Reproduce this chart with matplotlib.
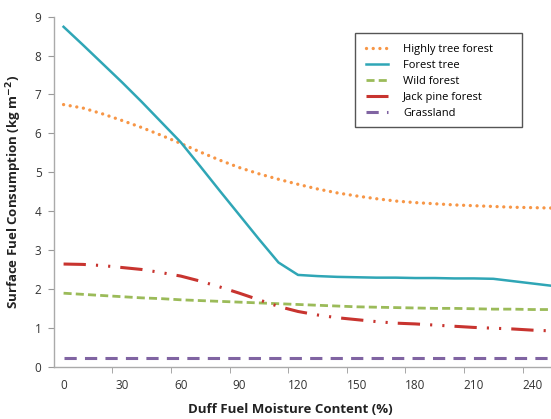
import matplotlib
matplotlib.use("Agg")
import matplotlib.pyplot as plt
from matplotlib.patches import Rectangle
import numpy as np

plt.rcParams['font.family'] = ['Open Sans', 'DejaVu Sans']

moisture = [0, 10, 20, 30, 40, 50, 60, 70, 80, 90, 100, 110, 120, 130, 140, 150,
            160, 170, 180, 190, 200, 210, 220, 230, 240, 250]

highly_tree = [6.74, 6.65, 6.50, 6.33, 6.15, 5.95, 5.74, 5.52, 5.31, 5.12, 4.96, 4.82, 4.69,
               4.57, 4.47, 4.39, 4.32, 4.26, 4.22, 4.19, 4.16, 4.14, 4.12, 4.10, 4.09, 4.08]
forest_tree = [8.74, 8.27, 7.79, 7.31, 6.81, 6.29, 5.77, 5.15, 4.52, 3.90, 3.28, 2.68, 2.36,
               2.33, 2.31, 2.30, 2.29, 2.29, 2.28, 2.28, 2.27, 2.27, 2.26, 2.20, 2.14, 2.08]
wild_forest = [1.89, 1.86, 1.83, 1.80, 1.77, 1.75, 1.72, 1.70, 1.68, 1.66, 1.64, 1.62, 1.60,
               1.58, 1.56, 1.54, 1.53, 1.52, 1.51, 1.50, 1.50, 1.49, 1.48, 1.48, 1.47, 1.47]
jack_pine = [2.64, 2.63, 2.60, 2.55, 2.50, 2.42, 2.33, 2.20, 2.05, 1.89, 1.72, 1.55, 1.42,
             1.33, 1.26, 1.21, 1.16, 1.12, 1.10, 1.07, 1.04, 1.01, 0.99, 0.97, 0.94, 0.92]
grassland = [0.22] * len(moisture)

x_ticks = [0, 30, 60, 90, 120, 150, 180, 210, 240]
y_ticks = [0, 1, 2, 3, 4, 5, 6, 7, 8, 9]

fig = plt.figure(figsize=(5.51, 4.19), dpi=100)
ax = fig.add_axes([54 / 551, 1 - 366.7 / 419, 1 - 54 / 551, (366.7 - 16.7) / 419])

ax.plot(moisture, highly_tree, color='#F79646', lw=2.4,
        linestyle=(0, (0.01, 2.0)), dash_capstyle='round', label='Highly tree forest')
ax.plot(moisture, forest_tree, color='#2FA6B6', lw=1.8, label='Forest tree')
ax.plot(moisture, wild_forest, color='#9BBB59', lw=2.0,
        linestyle=(0, (2.9, 1.5)), label='Wild forest')
ax.plot(moisture, jack_pine, color='#C8342F', lw=2.2,
        linestyle=(0, (7.3, 3.3, 0.7, 3.3, 0.7, 3.3)), label='Jack pine forest')
ax.plot(moisture, grassland, color='#8064A2', lw=2.2,
        linestyle=(0, (4.0, 2.7)), label='Grassland')

ax.set_xlim(-4.9, 249.5)
ax.set_ylim(0, 9)
ax.set_xticks(x_ticks)
ax.set_xticklabels([str(v) for v in x_ticks])
ax.set_xticks([25, 55, 85, 115, 145, 175, 205, 235], minor=True)
ax.tick_params(axis='x', which='major', length=0, pad=9, labelsize=8.5, labelcolor='#333333')
ax.tick_params(axis='x', which='minor', length=4, color='#999999', direction='out')
ax.set_yticks(y_ticks)
ax.tick_params(axis='y', length=4, color='#999999', labelsize=8.5, labelcolor='#333333', pad=5)

for s in ['top', 'right']:
    ax.spines[s].set_visible(False)
for s in ['left', 'bottom']:
    ax.spines[s].set_color('#AAAAAA')
    ax.spines[s].set_linewidth(1.0)

ax.set_ylabel('Surface Fuel Consumption (kg m$^{\\mathbf{-2}}$)', fontsize=9.5,
              fontweight='bold', color='#222222', labelpad=8)
ax.set_xlabel('Duff Fuel Moisture Content (%)', fontsize=9.5, fontweight='bold',
              color='#222222')
ax.xaxis.set_label_coords(0.476, -0.105)

box_x, box_top, box_w, box_h = 0.6056, 0.9534, 0.336, 0.2686
ax.add_patch(Rectangle((box_x, box_top - box_h), box_w, box_h, transform=ax.transAxes,
                       fill=True, facecolor='white', edgecolor='#555555', lw=1.0, zorder=4))
leg = ax.legend(loc='upper left', bbox_to_anchor=(box_x, box_top),
                fontsize=8, frameon=False,
                handlelength=2.0, labelspacing=0.45, borderpad=0.95, handletextpad=1.4,
                borderaxespad=0)
leg.set_zorder(5)

fig.savefig('out.png', dpi=100)
